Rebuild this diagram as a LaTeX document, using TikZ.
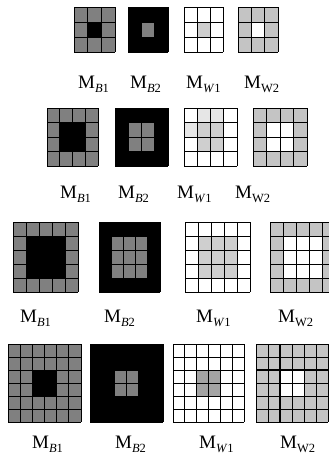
\documentclass[tikz,border=0pt]{standalone}
\usepackage{fontspec}
\setmainfont{Liberation Serif}
\usepackage{tikz}
\definecolor{maskgray}{HTML}{808080}
\definecolor{masklight}{HTML}{CFCFCF}
\definecolor{maskfaint}{HTML}{E6E6E6}
\definecolor{maskmid}{HTML}{A4A4A4}
\definecolor{maskring}{HTML}{C4C4C4}
\tikzset{
  cellsof/.style n args={5}{shift={(#1,#2)}, x={(#3pt/#5,0)}, y={(0,-#4pt/#5)}},
  gridline/.style={draw=black, line width=0.7pt},
  thickline/.style={gridline, line width=1.4pt},
  lab/.style={anchor=base west, inner sep=0pt, font=\fontsize{19}{22}\selectfont}
}
% one mask: left, top, width, height, cells, outer fill, inner fill, inner from, inner to
\newcommand\maskgrid[9]{%
  \begin{scope}[cellsof={#1}{#2}{#3}{#4}{#5}]
    \fill[#6] (0,0) rectangle (#5,#5);
    \fill[#7] (#8,#8) rectangle (#9,#9);
    \foreach \k in {0,...,#5} {
      \draw[gridline] (\k,0) -- (\k,#5);
      \draw[gridline] (0,\k) -- (#5,\k);
    }
  \end{scope}}
\newcommand\msub[1]{\raisebox{-4.5pt}{\fontsize{12.5}{14}\selectfont #1}}

\begin{document}
\begin{tikzpicture}[x=1pt, y=-1pt]
\useasboundingbox (0,0) rectangle (329,466);
\clip (0,0) rectangle (329,466);

% 3 x 3
\maskgrid{74}{7}{41}{45}{3}{maskgray}{black}{1}{2}
\maskgrid{128}{7}{40}{45}{3}{black}{maskgray}{1}{2}
\maskgrid{184}{7}{39}{45}{3}{white}{masklight}{1}{2}
\maskgrid{238}{7}{40}{45}{3}{maskring}{white}{1}{2}
\node[lab] (b1a) at (78,88) {M\msub{\textit{B}1}};
\node[lab] (b2a) at (130,88) {M\msub{\textit{B}2}};
\node[lab] (w1a) at (186,88) {M\msub{\textit{W}1}};
\node[lab] (w2a) at (244,88) {M\msub{W2}};

% 4 x 4
\maskgrid{47}{108}{51}{58}{4}{maskgray}{black}{1}{3}
\maskgrid{115}{108}{53}{58}{4}{black}{maskgray}{1}{3}
\maskgrid{184}{108}{53}{58}{4}{white}{masklight}{1}{3}
\begin{scope}[cellsof={184}{108}{53}{58}{4}]
  \filldraw[fill=maskfaint, gridline] (1,0) rectangle (2,1) (2,0) rectangle (3,1) (0,1) rectangle (1,2);
\end{scope}
\maskgrid{253}{108}{54}{58}{4}{maskring}{white}{1}{3}
\node[lab] (b1b) at (60,198) {M\msub{\textit{B}1}};
\node[lab] (b2b) at (118,198) {M\msub{\textit{B}2}};
\node[lab] (w1b) at (177,198) {M\msub{\textit{W}1}};
\node[lab] (w2b) at (235,198) {M\msub{W2}};

% 5 x 5
\maskgrid{13}{222}{65}{70}{5}{maskgray}{black}{1}{4}
\maskgrid{99}{222}{61}{70}{5}{black}{maskgray}{1}{4}
\maskgrid{185}{222}{65}{70}{5}{white}{masklight}{1}{4}
\maskgrid{270}{222}{65}{70}{5}{maskring}{white}{1}{4}
\node[lab] (b1c) at (20,322) {M\msub{\textit{B}1}};
\node[lab] (b2c) at (104,322) {M\msub{\textit{B}2}};
\node[lab] (w1c) at (196,322) {M\msub{\textit{W}1}};
\node[lab] (w2c) at (278,322) {M\msub{W2}};

% 6 x 6
\maskgrid{8}{344}{73}{78}{6}{maskgray}{black}{2}{4}
\maskgrid{90}{344}{73}{78}{6}{black}{maskgray}{2}{4}
\maskgrid{173}{344}{71}{78}{6}{white}{maskmid}{2}{4}
\maskgrid{256}{344}{72}{78}{6}{maskring}{white}{2}{4}
\begin{scope}[cellsof={256}{344}{72}{78}{6}]
  \draw[thickline] (2,0) -- (2,6) (0,2) -- (6,2);
\end{scope}
\node[lab] (b1d) at (32,448) {M\msub{\textit{B}1}};
\node[lab] (b2d) at (115,448) {M\msub{\textit{B}2}};
\node[lab] (w1d) at (199,448) {M\msub{\textit{W}1}};
\node[lab] (w2d) at (280,448) {M\msub{W2}};
\end{tikzpicture}
\end{document}
